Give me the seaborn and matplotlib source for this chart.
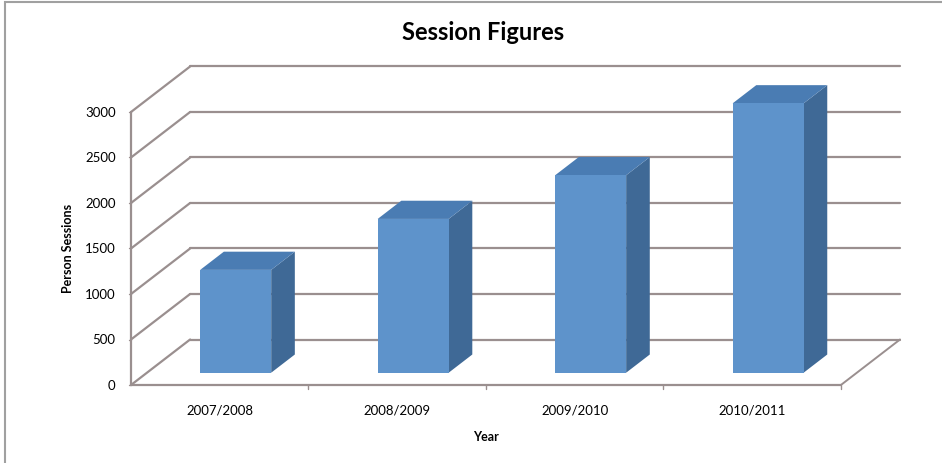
import numpy as np
import pandas as pd
import matplotlib
matplotlib.use("Agg")
import matplotlib.pyplot as plt
from matplotlib.patches import Polygon, Rectangle
import seaborn as sns

# ---- data ----
years = ["2007/2008", "2008/2009", "2009/2010", "2010/2011"]
sessions = [1130, 1690, 2170, 2960]
yticks = [0, 500, 1000, 1500, 2000, 2500, 3000]

title = "Session Figures"
xlabel = "Year"
ylabel = "Person Sessions"

# ---- style ----
sns.set_theme(style="white")
plt.rcParams["font.family"] = ["Lato", "DejaVu Sans"]
plt.rcParams["text.color"] = "black"
plt.rcParams["xtick.color"] = "black"
plt.rcParams["ytick.color"] = "black"

FRONT = "#5E93CB"
TOP = "#4A7CB3"
SIDE = "#3F6996"
GRID = "#9A8F8F"

# oblique projection: full depth shifts by DX (category units) and DY (value units)
DX, DY = 0.333, 500.0
D0, D1 = 0.27, 0.67   # bar front / back depth fractions
BW = 0.40             # bar width

fig = plt.figure(figsize=(9.42, 4.63), dpi=100)
ax = fig.add_axes([131/942, 78/463, (900-131)/942, (385-66.5)/463])

df = pd.DataFrame({"Year": years, "Sessions": sessions})
sns.barplot(data=df, x="Year", y="Sessions", color=FRONT, width=BW,
            saturation=1, ax=ax, zorder=5, edgecolor="none")

def P(x, y, d):
    return (x + d * DX, y + d * DY)

# walls / grid
xmin, xmax = -0.5, len(years) - 0.5
ymax = yticks[-1]
for v in yticks:
    ax.plot(*zip(P(xmin, v, 1), P(xmax, v, 1)), color=GRID, lw=1.6, zorder=1, clip_on=False)
    ax.plot(*zip(P(xmin, v, 0), P(xmin, v, 1)), color=GRID, lw=1.6, zorder=1, clip_on=False)
# floor right edge
ax.plot(*zip(P(xmax, 0, 0), P(xmax, 0, 1)), color=GRID, lw=1.4, zorder=1, clip_on=False)
# front axes
ax.plot([xmin, xmin], [0, ymax], color=GRID, lw=1.6, zorder=2, clip_on=False)
ax.plot([xmin, xmax], [0, 0], color=GRID, lw=1.6, zorder=2, clip_on=False)
# x category tick marks
for k in range(1, len(years) + 1):
    xb = xmin + k
    ax.plot([xb, xb], [0, -45], color=GRID, lw=1.0, zorder=2, clip_on=False)
for v in yticks:
    ax.plot([xmin - 0.012, xmin], [v, v], color=GRID, lw=1.0, zorder=2, clip_on=False)

# 3D bars: shift seaborn's bars to the front depth plane and add side/top faces
for patch in ax.patches:
    x0 = patch.get_x()
    w = patch.get_width()
    h = patch.get_height()
    fx, fy = P(x0, 0, D0)
    patch.set_x(fx)
    patch.set_y(fy)
    x1 = x0 + w
    side = [P(x1, 0, D0), P(x1, 0, D1), P(x1, h, D1), P(x1, h, D0)]
    top = [P(x0, h, D0), P(x1, h, D0), P(x1, h, D1), P(x0, h, D1)]
    ax.add_patch(Polygon(side, closed=True, facecolor=SIDE, edgecolor="none", zorder=4))
    ax.add_patch(Polygon(top, closed=True, facecolor=TOP, edgecolor="none", zorder=4))

ax.set_xlim(xmin, xmax + DX)
ax.set_ylim(0, ymax + DY)
ax.set_yticks(yticks)
ax.set_yticklabels([str(v) for v in yticks], fontsize=9.5)
ax.set_xticks(range(len(years)))
ax.set_xticklabels(years, fontsize=9.5)
ax.tick_params(axis="both", length=0)
ax.tick_params(axis="x", pad=14)
ax.tick_params(axis="y", pad=11)
ax.set_xlabel("")
ax.set_ylabel("")
ax.patch.set_visible(False)
for s in ax.spines.values():
    s.set_visible(False)
ax.grid(False)

fig.text(486/942, 1 - 437/463, xlabel, ha="center", va="center",
         fontsize=9, fontweight="bold")
fig.text(68/942, 1 - 248/463, ylabel, ha="center", va="center",
         rotation=90, fontsize=9, fontweight="bold")
fig.text(483/942, 1 - 33/463, title, ha="center", va="center",
         fontsize=17, fontweight="bold")

# chart border (top and left visible)
fig.add_artist(Rectangle((5/942, -0.01), 1.2, 1 - 2/463 + 0.01,
                         transform=fig.transFigure, fill=False,
                         edgecolor="#A0A0A0", lw=1.5))

fig.savefig("out.png", dpi=100)
